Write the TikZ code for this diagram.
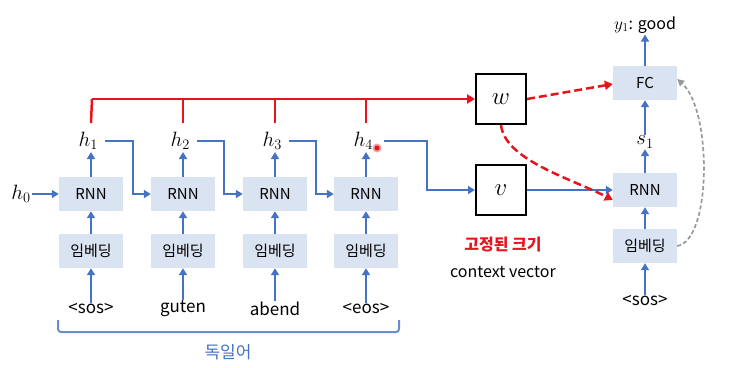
\documentclass[tikz,border=0pt]{standalone}
\usepackage{fontspec}
\setsansfont{Noto Sans CJK KR}
\newfontfamily\kr{Noto Sans CJK KR}
\usetikzlibrary{arrows.meta,decorations.pathreplacing}
\definecolor{boxfill}{HTML}{DAE3F1}
\definecolor{ablue}{HTML}{4472C4}
\definecolor{ared}{HTML}{E8141C}
\begin{document}
\begin{tikzpicture}[x=1pt,y=-1pt,
  blk/.style={fill=boxfill,minimum width=64pt,minimum height=34pt,inner sep=0pt,font=\kr\fontsize{15}{17}\selectfont},
  sq/.style={draw=black,line width=2pt,minimum width=50pt,minimum height=50pt,inner sep=0pt,font=\fontsize{26}{28}\selectfont},
  lab/.style={inner sep=1pt,font=\fontsize{20}{22}\selectfont},
  word/.style={inner sep=1pt,font=\kr\fontsize{17}{19}\selectfont},
  barr/.style={draw=ablue,line width=2.3pt,-{Triangle[length=7pt,width=8pt]}},
  rarr/.style={draw=ared,line width=2.5pt,-{Triangle[length=8pt,width=9pt]}},
  rline/.style={draw=ared,line width=2.5pt},
  rdash/.style={draw=ared,line width=2.5pt,dash pattern=on 8pt off 4pt,-{Triangle[length=8pt,width=9pt]}},
  gdash/.style={draw=gray!80,line width=1.7pt,dash pattern=on 4pt off 2.5pt,-{Triangle[length=7pt,width=7pt]}}
]
\useasboundingbox (0,0) rectangle (735,367);
% encoder
\foreach \i/\x/\w in {1/91/{<sos>},2/183/guten,3/275/abend,4/366/{<eos>}}{
  \node[blk] (r\i) at (\x,194) {RNN};
  \node[blk] (e\i) at (\x,251) {임베딩};
  \node[lab,anchor=east] (h\i) at (\x+8,141) {$h_{\i}$};
  \node[word] (w\i) at (\x,309) {\w};
  \draw[barr] (w\i.north) -- (e\i.south);
  \draw[barr] (e\i.north) -- (r\i.south);
  \draw[barr] (r\i.north) -- (\x,152);
  \coordinate (t\i) at (\x,123);
}
\node[lab] (h0) at (21,194) {$h_0$};
\draw[barr] (h0.east) -- (r1.west);
\foreach \a/\b/\m in {1/2/133,2/3/224,3/4/316}{
  \draw[barr] ([xshift=6pt]h\a.east) -- (\m,141) |- (r\b.west);
}
% red bus
\node[sq] (W) at (501,99) {$w$};
\node[sq] (V) at (501,190) {$v$};
\coordinate (rb) at (92,99);
\draw[rarr] (rb) -- (W.west);
\draw[rline] (t1) -- (rb);
\foreach \i in {2,3,4}{ \draw[rline] (t\i) -- (t\i |- W.west); }
\draw[barr] ([xshift=10pt]h4.east) -- (427,141) |- (V.west);
% decoder
\node[blk] (dr) at (645,190) {RNN};
\node[blk] (fc) at (645,83) {FC};
\node[blk] (de) at (645,246) {임베딩};
\node[lab] (s1) at (645,142) {$s_1$};
\node[inner sep=1pt,font=\fontsize{18}{20}\selectfont] (y1) at (645,25) {$y_1$\kr{\fontsize{16}{18}\selectfont: good}};
\node[word] (sos) at (645,301) {<sos>};
\draw[barr] (sos.north) -- (de.south);
\draw[barr] (de.north) -- (dr.south);
\draw[barr] (dr.north) -- (s1.south);
\draw[barr] (s1.north) -- (fc.south);
\draw[barr] (fc.north) -- (y1.south);
\draw[barr] (V.east) -- (dr.west);
\draw[rdash] (W.east) -- ([yshift=-1pt]fc.west);
\draw[rdash] (W.south) .. controls (505,160) and (570,178) .. ([yshift=-10pt]dr.west);
\draw[gdash] (de.east) .. controls (712,240) and (712,110) .. ([yshift=4pt]fc.east);
% texts
\node[font=\kr\bfseries\fontsize{16}{18}\selectfont,text=ared] (fix) at (503,245) {고정된 크기};
\node[font=\kr\fontsize{16}{18}\selectfont] (ctx) at (503,272) {context vector};
% brace
\coordinate (bl) at (58,320);
\coordinate (br) at (399,320);
\draw[draw=ablue!80,line width=2pt,rounded corners=3pt] (bl) -- (58,332) -- (399,332) -- (br);
\node[font=\kr\fontsize{17}{19}\selectfont,text=ablue] (de1) at (228,352) {독일어};
% pointer dot
\node[circle,fill=ared!40,inner sep=0pt,minimum size=9pt] (glow) at (377,148) {};
\node[circle,fill=ared,inner sep=0pt,minimum size=5pt] (dot) at (377,148) {};
\end{tikzpicture}
\end{document}
